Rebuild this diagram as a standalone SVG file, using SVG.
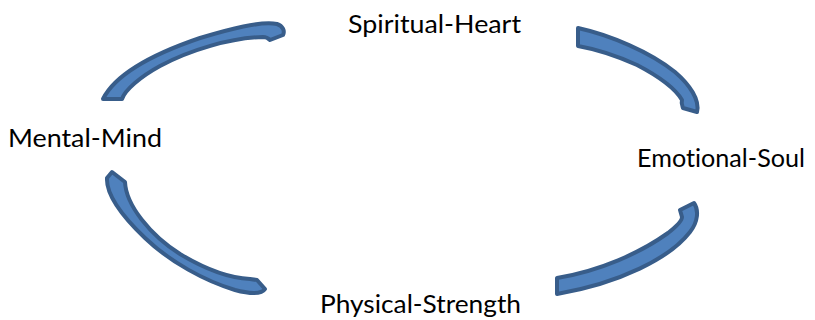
<svg xmlns="http://www.w3.org/2000/svg" width="815" height="320" viewBox="0 0 815 320">
<style>
.arc{fill:#4F81BD;stroke:#385D8A;stroke-width:4;stroke-linejoin:round}
.lbl{font-family:Lato,"Open Sans","Liberation Sans",sans-serif;font-size:25px;fill:#000;font-variant-ligatures:none}
</style>
<rect width="815" height="320" fill="#fff"/>
<g id="connectors">
<path class="arc" d="M 103,99 C 115,75 150,55 200,38 C 230,29 260,21 277,24 C 283,26 285,31 283,35 L 270,40 C 268,38 266,37 263,37 C 230,38 190,50 160,66 C 140,77 125,90 122,99 Z"/>
<path class="arc" d="M 578,28 C 610,35 650,52 675,72 C 690,85 700,100 697,112 L 683,108 C 682,105 681,103 682,100 C 675,88 660,77 637,65 C 615,55 595,49 578,46 Z"/>
<path class="arc" d="M 557,278 C 600,271 640,253 668,233 C 677,226 682,221 682,217 L 680,210 L 694,203 C 699,210 698,222 690,232 C 670,258 620,283 557,294 Z"/>
<path class="arc" d="M 112,172 L 125,182 C 126,205 150,235 180,254 C 205,269 230,278 250,279 L 257,280 L 265,289 C 262,294 250,294 235,290 C 205,281 170,262 145,238 C 122,216 106,195 107,178 Z"/>
</g>
<g id="spiritual-heart"><text class="lbl" x="348" y="33" textLength="173" lengthAdjust="spacingAndGlyphs">Spiritual-Heart</text></g>
<g id="mental-mind"><text class="lbl" x="8" y="147" textLength="154" lengthAdjust="spacingAndGlyphs">Mental-Mind</text></g>
<g id="emotional-soul"><text class="lbl" x="637" y="167" textLength="168" lengthAdjust="spacingAndGlyphs">Emotional-Soul</text></g>
<g id="physical-strength"><text class="lbl" x="320" y="313" textLength="201" lengthAdjust="spacingAndGlyphs">Physical-Strength</text></g>
</svg>
